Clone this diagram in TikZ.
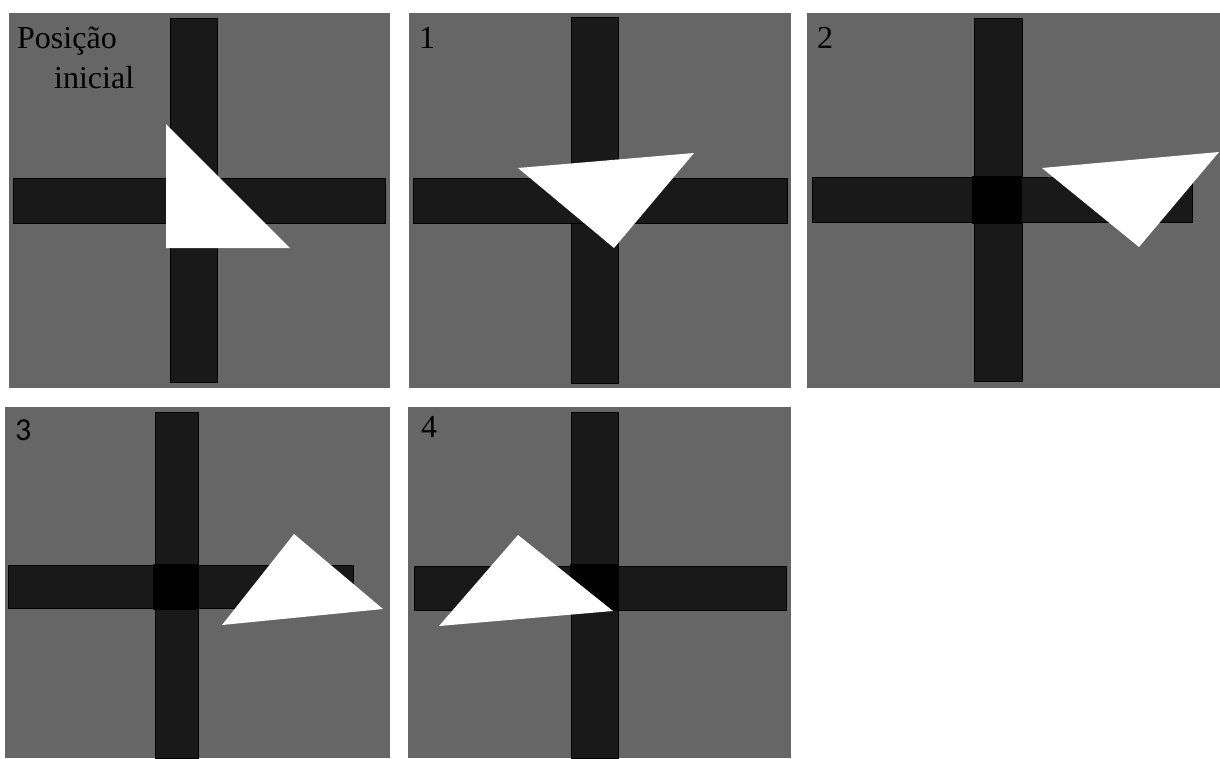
\documentclass[tikz,border=0pt]{standalone}
\usepackage{tikz}
\usepackage{fontspec}
\setmainfont{Liberation Serif}
\newfontfamily\calibrilike{Carlito}
\definecolor{cinzaFundo}{gray}{0.4}
\definecolor{cinzaBarra}{gray}{0.1}
\begin{document}
\begin{tikzpicture}[x=1pt,y=-1pt,
  painel/.style={fill=cinzaFundo},
  barra/.style={fill=cinzaBarra,draw=black,line width=0.6pt},
  centro/.style={fill=black},
  peca/.style={fill=white},
  rotulo/.style={anchor=base west,inner sep=0pt,text=black,font=\fontsize{32}{38}\selectfont}]
  \useasboundingbox (0,0) rectangle (1220,758);
  \fill[painel] (9,13) rectangle (390,388);
  \draw[barra] (170,18) rectangle (217,382);
  \draw[barra] (13,178) rectangle (385,223);
  \fill[peca] (166,124) -- (166,248) -- (290,248) -- cycle;
  \node[rotulo] (posicao) at (17,48) {Posição};
  \node[rotulo] (inicial) at (54,88) {inicial};
  \fill[painel] (409,13) rectangle (791,388);
  \draw[barra] (571,17) rectangle (618,383);
  \draw[barra] (413,178) rectangle (787,223);
  \fill[peca] (518,168) -- (694,153) -- (614,248) -- cycle;
  \node[rotulo] (passo1) at (419,48) {1};
  \fill[painel] (807,13) rectangle (1220,388);
  \draw[barra] (974,18) rectangle (1022,381);
  \draw[barra] (812,177) rectangle (1192,222);
  \fill[centro] (972,176) rectangle (1022,224);
  \fill[peca] (1042,168) -- (1219,152) -- (1139,247) -- cycle;
  \node[rotulo] (passo2) at (817,48) {2};
  \fill[painel] (5,407) rectangle (390,758);
  \draw[barra] (155,412) rectangle (198,758);
  \draw[barra] (8,565) rectangle (353,608);
  \fill[centro] (153,564) rectangle (199,610);
  \fill[peca] (294,534) -- (383,609) -- (222,625) -- cycle;
  \node[rotulo,font=\fontsize{32}{38}\calibrilike] (passo3) at (15,440) {3};
  \fill[painel] (408,407) rectangle (791,758);
  \draw[barra] (571,412) rectangle (618,758);
  \draw[barra] (414,566) rectangle (786,610);
  \fill[centro] (570,564) rectangle (619,611);
  \fill[peca] (518,535) -- (613,611) -- (439,626) -- cycle;
  \node[rotulo] (passo4) at (421,437) {4};
\end{tikzpicture}
\end{document}
